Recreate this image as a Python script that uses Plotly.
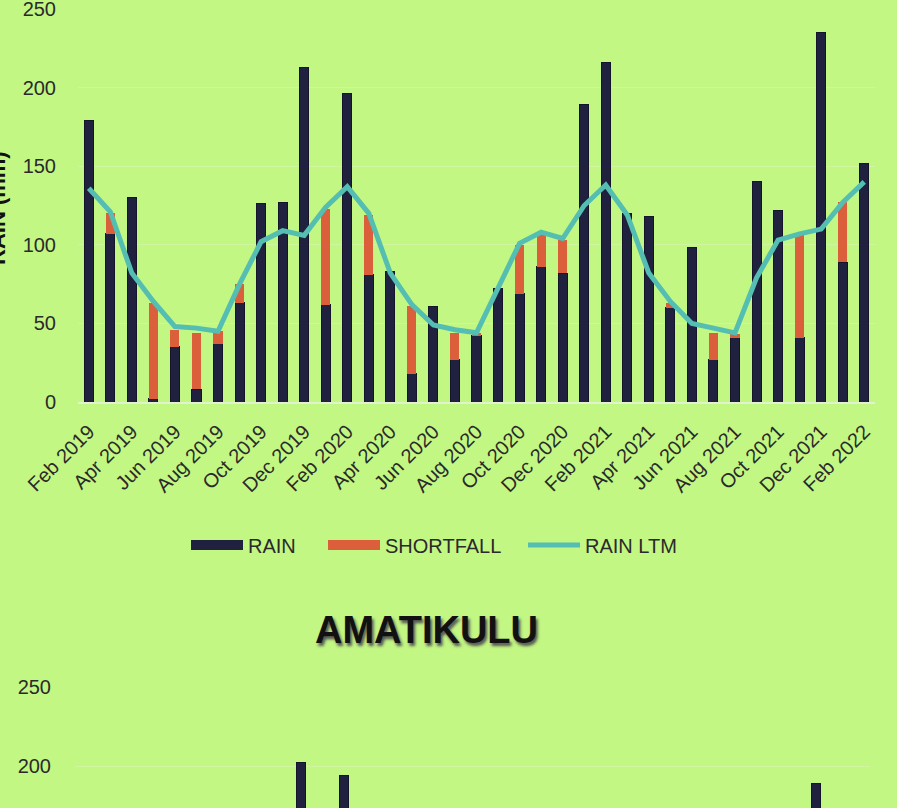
import plotly.graph_objects as go

# monthly categories, Feb 2019 - Feb 2022
months = [
    "Feb 2019", "Mar 2019", "Apr 2019", "May 2019", "Jun 2019", "Jul 2019",
    "Aug 2019", "Sep 2019", "Oct 2019", "Nov 2019", "Dec 2019", "Jan 2020",
    "Feb 2020", "Mar 2020", "Apr 2020", "May 2020", "Jun 2020", "Jul 2020",
    "Aug 2020", "Sep 2020", "Oct 2020", "Nov 2020", "Dec 2020", "Jan 2021",
    "Feb 2021", "Mar 2021", "Apr 2021", "May 2021", "Jun 2021", "Jul 2021",
    "Aug 2021", "Sep 2021", "Oct 2021", "Nov 2021", "Dec 2021", "Jan 2022",
    "Feb 2022",
]
tick_labels = months[::2]

# top chart (title cropped off in the reference)
rain = [179, 107, 130, 2, 35, 8, 37, 63, 126, 127, 213, 62,
        196, 81, 83, 18, 61, 27, 42, 72, 69, 86, 82, 189,
        216, 120, 118, 60, 98, 27, 41, 140, 122, 41, 235, 89,
        152]
shortfall = [0, 13, 0, 61, 11, 36, 8, 12, 0, 0, 0, 61,
             0, 38, 0, 43, 0, 17, 2, 0, 31, 21, 21, 0,
             0, 0, 0, 3, 0, 17, 2, 0, 0, 65, 0, 38,
             0]
rain_ltm = [136, 121, 82, 64, 48, 47, 45, 75, 102, 109, 106, 124,
            137, 120, 82, 62, 49, 46, 44, 73, 101, 108, 104, 125,
            138, 119, 82, 64, 50, 47, 44, 79, 103, 107, 110, 127,
            140]

# AMATIKULU: only bar tops above ~175 mm are visible in the crop
amatikulu_rain = [None] * 10 + [202, None, 194] + [None] * 21 + [189, None, None]

BG = '#C3F784'
NAVY = '#20203F'
ORANGE = '#DA5F3A'
TEAL = '#53BEB1'
GRID = '#CFF69F'
TXT = '#2a2a2a'
FONT = 'Liberation Sans, Arial, sans-serif'
NBSP = '\u00a0'

W, H = 897, 808


def px_x(p):
    return p / W


def px_y(p):
    return (H - p) / H


fig = go.Figure()

fig.add_trace(go.Bar(
    x=months, y=rain, name='RAIN', showlegend=False,
    marker=dict(color=NAVY, line=dict(color='#14142a', width=1)),
    xaxis='x', yaxis='y'
))
fig.add_trace(go.Bar(
    x=months, y=shortfall, name='SHORTFALL', showlegend=False,
    marker=dict(color=ORANGE, line=dict(width=0)),
    xaxis='x', yaxis='y'
))
fig.add_trace(go.Scatter(
    x=months, y=rain_ltm, name='RAIN LTM', mode='lines', showlegend=False,
    line=dict(color=TEAL, width=5),
    xaxis='x', yaxis='y'
))

# legend proxies (Excel-style wide swatches), padded for Excel-like spacing
for name, color, width in [('RAIN' + NBSP * 4, NAVY, 10),
                           ('SHORTFALL' + NBSP * 3, ORANGE, 10),
                           ('RAIN LTM', TEAL, 5)]:
    fig.add_trace(go.Scatter(
        x=[None], y=[None], mode='lines', name=name,
        line=dict(color=color, width=width),
        xaxis='x', yaxis='y'
    ))

fig.add_trace(go.Bar(
    x=months, y=amatikulu_rain, name='AMATIKULU RAIN', showlegend=False,
    marker=dict(color=NAVY, line=dict(color='#14142a', width=1)),
    xaxis='x2', yaxis='y2'
))

axis_common = dict(
    type='category', categoryorder='array', categoryarray=months,
    showgrid=False, zeroline=False, showline=False, ticks='',
    automargin=False,
)

fig.update_layout(
    width=W, height=H,
    margin=dict(l=0, r=0, t=0, b=0),
    paper_bgcolor=BG, plot_bgcolor=BG,
    font=dict(family=FONT, color=TXT, size=18),
    barmode='stack', bargap=0.58,
    xaxis=dict(
        axis_common,
        domain=[px_x(78), px_x(875)], anchor='y',
        tickmode='array', tickvals=tick_labels, ticktext=tick_labels,
        tickangle=-45, tickfont=dict(size=20, color=TXT),
        showline=True, linecolor='#E2F2CF', linewidth=2,
        ticklabelstandoff=8,
    ),
    yaxis=dict(
        domain=[px_y(402), px_y(9)], anchor='x', automargin=False,
        range=[0, 250], tickvals=[0, 50, 100, 150, 200, 250],
        showgrid=True, gridcolor=GRID, gridwidth=1, zeroline=False,
        tickfont=dict(size=20, color=TXT), ticklabelstandoff=21,
        ticklabeloverflow='allow',
    ),
    xaxis2=dict(
        axis_common,
        domain=[px_x(75), px_x(870)], anchor='y2',
        showticklabels=False,
    ),
    yaxis2=dict(
        domain=[0, px_y(687)], anchor='x2', automargin=False,
        range=[250 - (H - 687) / 1.58, 250], tickvals=[200, 250],
        showgrid=True, gridcolor=GRID, gridwidth=1, zeroline=False,
        tickfont=dict(size=20, color=TXT), ticklabelstandoff=23,
        ticklabeloverflow='allow',
    ),
    legend=dict(
        orientation='h', x=px_x(434), xanchor='center',
        y=px_y(545), yanchor='middle', traceorder='normal',
        bgcolor='rgba(0,0,0,0)', itemwidth=52,
        font=dict(size=20, color=TXT), itemclick=False,
    ),
    showlegend=True,
)

fig.add_annotation(
    text='<b>RAIN (mm)</b>', textangle=-90,
    xref='paper', yref='paper', x=px_x(-3), y=px_y(208),
    xanchor='center', yanchor='middle', showarrow=False,
    font=dict(size=22, color='#111111', family=FONT),
)
fig.add_annotation(
    text='<b>AMATIKULU</b>',
    xref='paper', yref='paper', x=px_x(426), y=px_y(630),
    xanchor='center', yanchor='middle', showarrow=False,
    font=dict(size=38, color='#111111', family=FONT, shadow='2px 3px 3px #555555'),
)

# remove the default page margin so the figure fills the window
fig.write_html("out.html", config={'displayModeBar': False},
               post_script="document.body.style.margin='0';")
